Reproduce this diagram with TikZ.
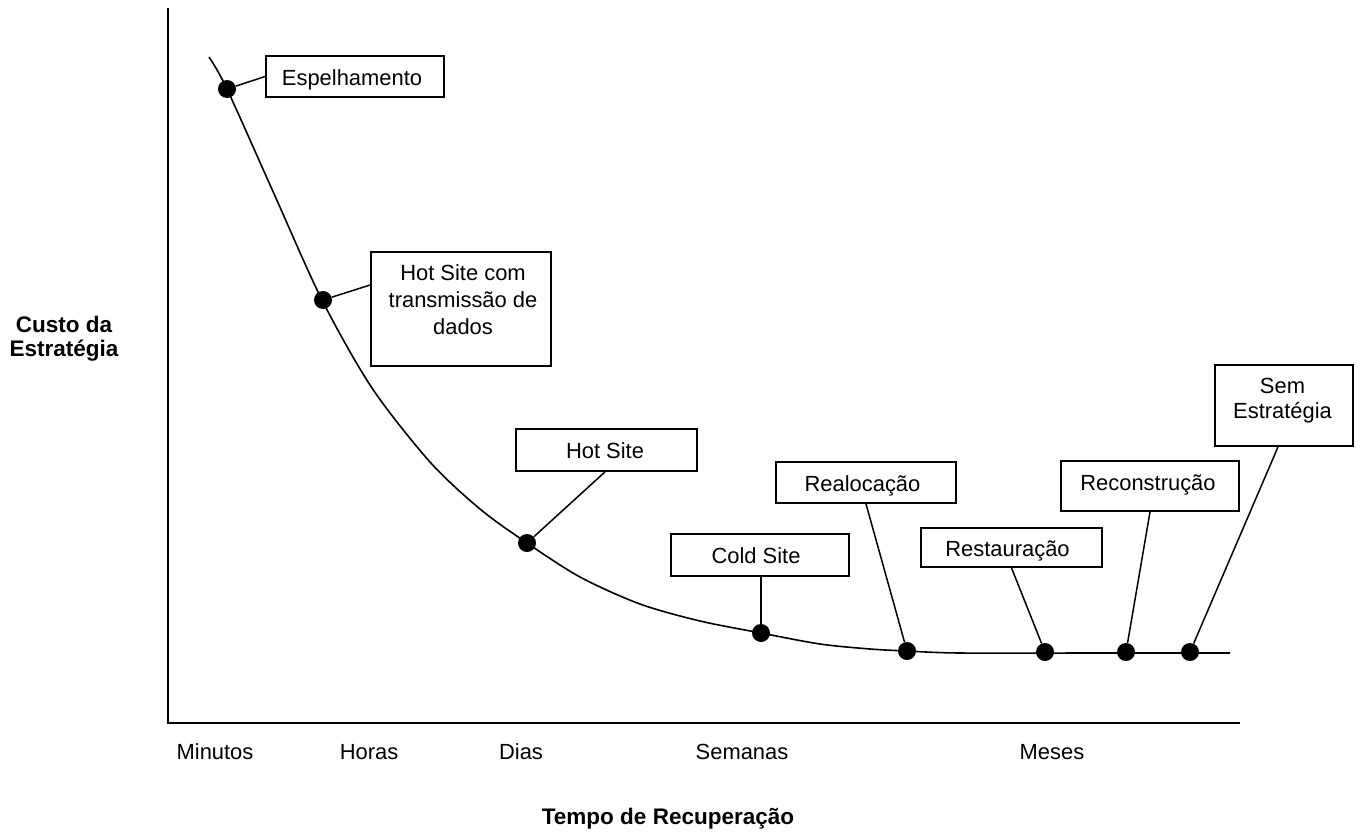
\documentclass[tikz,border=0pt]{standalone}
\usepackage{fontspec}
\setmainfont{Liberation Sans}
\begin{document}
\begin{tikzpicture}[x=1bp,y=-1bp,
  box/.style={draw, line width=1.8bp, inner sep=0pt},
  dotn/.style={circle, fill=black, inner sep=0pt, minimum size=18bp},
  lbl/.style={font=\fontsize{22}{27}\selectfont, inner sep=0pt, anchor=base},
  mlbl/.style={font=\fontsize{22}{27}\selectfont, inner sep=0pt, align=center},
  blbl/.style={font=\bfseries\fontsize{22.6}{24}\selectfont, inner sep=0pt, align=center},
  link/.style={line width=1.5bp},
  axis/.style={line width=2bp},
  curve/.style={line width=1.6bp}]
\useasboundingbox (0,0) rectangle (1363,832);
\fill[white] (0,0) rectangle (1363,832);

% axes
\coordinate (ytop) at (168,8);
\coordinate (orig) at (168,723);
\coordinate (xend) at (1240,723);
\draw[axis] (ytop) -- (orig) -- (xend);

% curve
\draw[curve] plot[smooth, tension=0.5] coordinates {(209,57) (227,89) (275,196) (322,300) (372,388) (430,462) (480,509) (527,543) (580,577) (640,604) (700,621) (761,633) (820,644) (870,649) (907,651) (960,653) (1100,653) (1230,653)};

% boxes
\node[box, minimum width=178bp, minimum height=41bp] (esp) at (355,76.5) {};
\node[box, minimum width=180bp, minimum height=114bp] (hscom) at (461,309) {};
\node[box, minimum width=181bp, minimum height=42bp] (hs) at (606.5,450) {};
\node[box, minimum width=178bp, minimum height=42bp] (cold) at (760,555) {};
\node[box, minimum width=180bp, minimum height=41bp] (real) at (866,482.5) {};
\node[box, minimum width=181bp, minimum height=39bp] (rest) at (1011.5,547.5) {};
\node[box, minimum width=178bp, minimum height=50bp] (recon) at (1150,486) {};
\node[box, minimum width=138bp, minimum height=81bp] (sem) at (1284,405.5) {};

% box texts
\node[lbl] (tesp) at (352,85) {Espelhamento};
\node[mlbl] (thscom) at (463,300) {Hot Site com\\transmissão de\\dados};
\node[lbl] (ths) at (605,458) {Hot Site};
\node[lbl] (tcold) at (756,563) {Cold Site};
\node[lbl] (treal) at (862.5,491) {Realocação};
\node[lbl] (trest) at (1007.5,556) {Restauração};
\node[lbl] (trecon) at (1148,490) {Reconstrução};
\node[mlbl, font=\fontsize{22}{25}\selectfont] (tsem) at (1282.5,401) {Sem\\Estratégia};

% dots
\node[dotn] (d1) at (227,89) {};
\node[dotn] (d2) at (323,300) {};
\node[dotn] (d3) at (527,543) {};
\node[dotn] (d4) at (761,633) {};
\node[dotn] (d5) at (907,651) {};
\node[dotn] (d6) at (1045,652) {};
\node[dotn] (d7) at (1126,652) {};
\node[dotn] (d8) at (1190,652) {};

% connectors
\draw[link] (d1) -- (esp.west);
\draw[link] (d2) -- ([yshift=24bp]hscom.west);
\draw[link] (d3) -- ([xshift=-1.5bp]hs.south);
\draw[link] (d4) -- ([xshift=1bp]cold.south);
\draw[link] (d5) -- (real.south);
\draw[link] (d6) -- (rest.south);
\draw[link] (d7) -- (recon.south);
\draw[link] (d8) -- ([xshift=-6bp]sem.south);

% axis labels
\node[lbl] (lmin) at (215,759) {Minutos};
\node[lbl] (lhor) at (369,759) {Horas};
\node[lbl] (ldia) at (521,759) {Dias};
\node[lbl] (lsem) at (742,759) {Semanas};
\node[lbl] (lmes) at (1052,759) {Meses};
\node[blbl, anchor=base] (xlab) at (668,824) {Tempo de Recuperação};
\node[blbl] (ylab) at (64,339) {Custo da\\Estratégia};
\end{tikzpicture}
\end{document}
